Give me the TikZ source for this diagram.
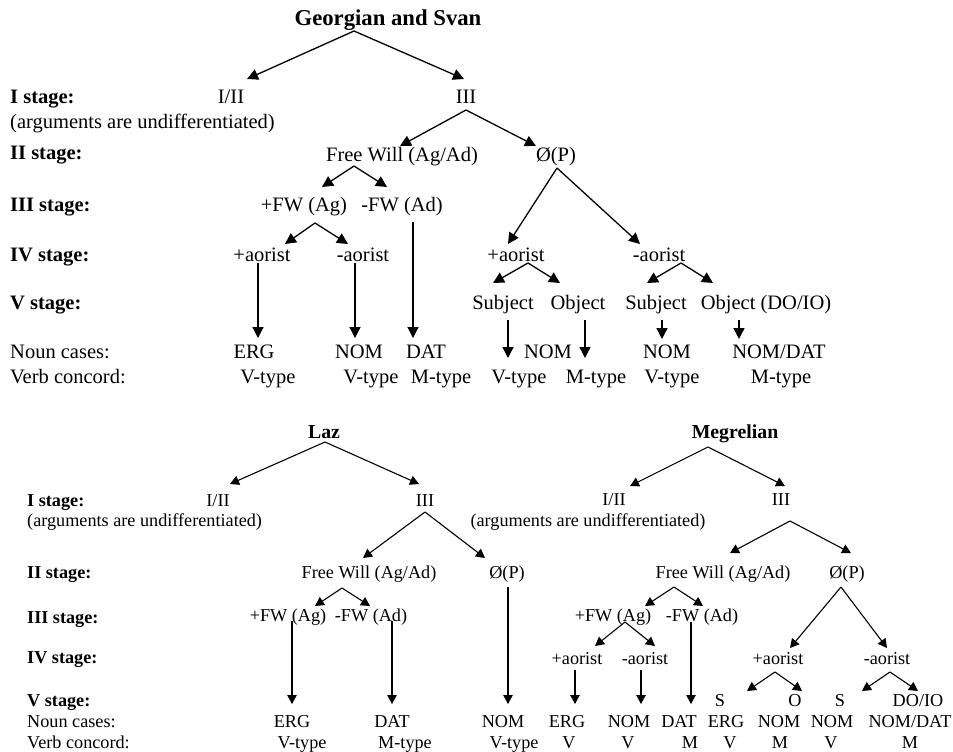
\documentclass[tikz,border=0pt]{standalone}
\usepackage{fontspec}
\setmainfont{Liberation Serif}
\usetikzlibrary{arrows.meta}
\tikzset{
 T/.style={inner sep=0pt, text height=13.5pt, text depth=0pt, font=\fontsize{20.5}{24}\selectfont},
 TS/.style={inner sep=0pt, text height=13.5pt, text depth=0pt, anchor=west, font=\fontsize{20.5}{24}\selectfont\bfseries},
 TL/.style={inner sep=0pt, text height=13.5pt, text depth=0pt, anchor=west, font=\fontsize{20.5}{24}\selectfont},
 TT/.style={inner sep=0pt, text height=15pt, text depth=0pt, font=\fontsize{22.7}{26}\selectfont\bfseries},
 B/.style={inner sep=0pt, text height=12pt, text depth=0pt, font=\fontsize{18.2}{22}\selectfont},
 BS/.style={inner sep=0pt, text height=12pt, text depth=0pt, anchor=west, font=\fontsize{18.2}{22}\selectfont\bfseries},
 BL/.style={inner sep=0pt, text height=12pt, text depth=0pt, anchor=west, font=\fontsize{18.2}{22}\selectfont},
 BT/.style={inner sep=0pt, text height=13pt, text depth=0pt, font=\fontsize{19.8}{24}\selectfont\bfseries},
 arrT/.style={line width=1.3pt, -{Triangle[length=11pt,width=11pt]}},
 arrB/.style={line width=1.1pt, -{Triangle[length=9pt,width=9.5pt]}},
}
\begin{document}
\begin{tikzpicture}[x=1pt,y=-1pt]
\useasboundingbox (0,0) rectangle (953,752);
% ---------------- Georgian and Svan ----------------
\node[TT] (title) at (388,18) {Georgian and Svan};
\node[TS] (s1) at (10,97) {I stage:};
\node[TL] (arg1) at (10,122) {(arguments are undifferentiated)};
\node[TS] (s2) at (10,153) {II stage:};
\node[TS] (s3) at (10,205) {III stage:};
\node[TS] (s4) at (10,255) {IV stage:};
\node[TS] (s5) at (10,303) {V stage:};
\node[TL] (nc1) at (10,352) {Noun cases:};
\node[TL] (vc1) at (10,377) {Verb concord:};

\node[T] (gi2) at (231,97) {I/II};
\node[T] (giii) at (466,97) {III};
\node[T] (gfw) at (402,155) {Free Will (Ag/Ad)};
\node[T] (gp) at (556,155) {Ø(P)};
\node[T] (gfwag) at (304,205) {+FW (Ag)};
\node[T] (gfwad) at (402,205) {-FW (Ad)};
\node[T] (gpa) at (262,255) {+aorist};
\node[T] (gma) at (363,255) {-aorist};
\node[T] (gpa2) at (516,255) {+aorist};
\node[T] (gma2) at (659,255) {-aorist};
\node[T] (gsub) at (503,303) {Subject};
\node[T] (gobj) at (578,303) {Object};
\node[T] (gsub2) at (656,303) {Subject};
\node[T] (gobj2) at (766,303) {Object (DO/IO)};
\node[T] (gn1) at (254,352) {ERG};
\node[T] (gn2) at (359,352) {NOM};
\node[T] (gn3) at (426,352) {DAT};
\node[T] (gn4) at (548,352) {NOM};
\node[T] (gn5) at (667,352) {NOM};
\node[T] (gn6) at (779,352) {NOM/DAT};
\node[T] (gv1) at (268,377) {V-type};
\node[T] (gv2) at (371,377) {V-type};
\node[T] (gv3) at (441,377) {M-type};
\node[T] (gv4) at (519,377) {V-type};
\node[T] (gv5) at (596,377) {M-type};
\node[T] (gv6) at (672,377) {V-type};
\node[T] (gv7) at (781,377) {M-type};

\draw[arrT] ([shift={(-34,13)}]title.center) -- ([shift={(16,-18)}]gi2.center);
\draw[arrT] ([shift={(-34,13)}]title.center) -- ([shift={(-2,-18)}]giii.center);
\draw[arrT] ([shift={(0,13)}]giii.center) -- ([shift={(-2,-9)}]gfw.center);
\draw[arrT] ([shift={(0,13)}]giii.center) -- ([shift={(-20,-9)}]gp.center);
\draw[arrT] ([shift={(-48,11)}]gfw.center) -- ([shift={(18,-18)}]gfwag.center);
\draw[arrT] ([shift={(-48,11)}]gfw.center) -- ([shift={(-15,-18)}]gfwad.center);
\draw[arrT] ([shift={(11,18)}]gfwag.center) -- ([shift={(23,-11)}]gpa.center);
\draw[arrT] ([shift={(11,18)}]gfwag.center) -- ([shift={(-15,-11)}]gma.center);
\draw[arrT] ([shift={(-4,8)}]gpa.center) -- ([shift={(4,-14)}]gn1.center);
\draw[arrT] ([shift={(-8,8)}]gma.center) -- ([shift={(-4,-14)}]gn2.center);
\draw[arrT] ([shift={(11,17)}]gfwad.center) -- ([shift={(-13,-14)}]gn3.center);
\draw[arrT] ([shift={(1,13)}]gp.center) -- ([shift={(-8,-11)}]gpa2.center);
\draw[arrT] ([shift={(1,13)}]gp.center) -- ([shift={(-19,-11)}]gma2.center);
\draw[arrT] ([shift={(12,8)}]gpa2.center) -- ([shift={(-10,-20)}]gsub.center);
\draw[arrT] ([shift={(12,8)}]gpa2.center) -- ([shift={(-18,-20)}]gobj.center);
\draw[arrT] ([shift={(22,8)}]gma2.center) -- ([shift={(-9,-20)}]gsub2.center);
\draw[arrT] ([shift={(22,8)}]gma2.center) -- ([shift={(-53,-20)}]gobj2.center);
\draw[arrT] ([shift={(5,17)}]gsub.center) -- ([shift={(-40,6)}]gn4.center);
\draw[arrT] ([shift={(7,17)}]gobj.center) -- ([shift={(37,6)}]gn4.center);
\draw[arrT] ([shift={(6,17)}]gsub2.center) -- ([shift={(-5,-13)}]gn5.center);
\draw[arrT] ([shift={(-27,17)}]gobj2.center) -- ([shift={(-40,-13)}]gn6.center);

% ---------------- Laz ----------------
\node[BT] (laz) at (324,432) {Laz};
\node[BS] (l1) at (27,500) {I stage:};
\node[BL] (larg) at (27,520) {(arguments are undifferentiated)};
\node[BS] (l2) at (27,572) {II stage:};
\node[BS] (l3) at (27,617) {III stage:};
\node[BS] (l4) at (27,657) {IV stage:};
\node[BS] (l5) at (27,700) {V stage:};
\node[BL] (lnc) at (27,721) {Noun cases:};
\node[BL] (lvc) at (27,742) {Verb concord:};

\node[B] (li2) at (218,500) {I/II};
\node[B] (liii) at (425,500) {III};
\node[B] (lfw) at (369,572) {Free Will (Ag/Ad)};
\node[B] (lp) at (507,572) {Ø(P)};
\node[B] (lfwag) at (288,615) {+FW (Ag)};
\node[B] (lfwad) at (371,615) {-FW (Ad)};
\node[B] (ln1) at (292,721) {ERG};
\node[B] (ln2) at (392,721) {DAT};
\node[B] (ln3) at (503,721) {NOM};
\node[B] (lv1) at (302,742) {V-type};
\node[B] (lv2) at (405,742) {M-type};
\node[B] (lv3) at (514,742) {V-type};

\draw[arrB] ([shift={(1,10)}]laz.center) -- ([shift={(12,-16)}]li2.center);
\draw[arrB] ([shift={(1,10)}]laz.center) -- ([shift={(-6,-16)}]liii.center);
\draw[arrB] ([shift={(0,12)}]liii.center) -- ([shift={(-6,-14)}]lfw.center);
\draw[arrB] ([shift={(0,12)}]liii.center) -- ([shift={(-22,-14)}]lp.center);
\draw[arrB] ([shift={(-27,16)}]lfw.center) -- ([shift={(27,-9)}]lfwag.center);
\draw[arrB] ([shift={(-27,16)}]lfw.center) -- ([shift={(-1,-9)}]lfwad.center);
\draw[arrB] ([shift={(4,6)}]lfwag.center) -- ([shift={(0,-17)}]ln1.center);
\draw[arrB] ([shift={(21,6)}]lfwad.center) -- ([shift={(0,-17)}]ln2.center);
\draw[arrB] ([shift={(1,15)}]lp.center) -- ([shift={(5,-17)}]ln3.center);

% ---------------- Megrelian ----------------
\node[BT] (meg) at (735,432) {Megrelian};
\node[B] (mi2) at (614,499) {I/II};
\node[B] (miii) at (781,499) {III};
\node[B] (marg) at (588,520) {(arguments are undifferentiated)};
\node[B] (mfw) at (723,572) {Free Will (Ag/Ad)};
\node[B] (mp) at (847,572) {Ø(P)};
\node[B] (mfwag) at (613,615) {+FW (Ag)};
\node[B] (mfwad) at (702,615) {-FW (Ad)};
\node[B] (mpa) at (577,658) {+aorist};
\node[B] (mma) at (645,658) {-aorist};
\node[B] (mpa2) at (778,658) {+aorist};
\node[B] (mma2) at (887,658) {-aorist};
\node[B] (ms1) at (720,700) {S};
\node[B] (mo1) at (795,700) {O};
\node[B] (ms2) at (840,700) {S};
\node[B] (mo2) at (918,700) {DO/IO};
\node[B] (mn1) at (567,721) {ERG};
\node[B] (mn2) at (629,721) {NOM};
\node[B] (mn3) at (679,721) {DAT};
\node[B] (mn4) at (726,721) {ERG};
\node[B] (mn5) at (779,721) {NOM};
\node[B] (mn6) at (832,721) {NOM};
\node[B] (mn7) at (910,721) {NOM/DAT};
\node[B] (mv1) at (569,742) {V};
\node[B] (mv2) at (628,742) {V};
\node[B] (mv3) at (690,742) {M};
\node[B] (mv4) at (730,742) {V};
\node[B] (mv5) at (780,742) {M};
\node[B] (mv6) at (831,742) {V};
\node[B] (mv7) at (910,742) {M};

\draw[arrB] ([shift={(-27,15)}]meg.center) -- ([shift={(16,-13)}]mi2.center);
\draw[arrB] ([shift={(-27,15)}]meg.center) -- ([shift={(4,-13)}]miii.center);
\draw[arrB] ([shift={(9,22)}]miii.center) -- ([shift={(7,-19)}]mfw.center);
\draw[arrB] ([shift={(9,22)}]miii.center) -- ([shift={(4,-19)}]mp.center);
\draw[arrB] ([shift={(-49,15)}]mfw.center) -- ([shift={(32,-9)}]mfwag.center);
\draw[arrB] ([shift={(-49,15)}]mfw.center) -- ([shift={(1,-9)}]mfwad.center);
\draw[arrB] ([shift={(12,7)}]mfwag.center) -- ([shift={(18,-12)}]mpa.center);
\draw[arrB] ([shift={(12,7)}]mfwag.center) -- ([shift={(10,-12)}]mma.center);
\draw[arrB] ([shift={(-11,7)}]mfwad.center) -- ([shift={(12,-17)}]mn3.center);
\draw[arrB] ([shift={(-2,12)}]mpa.center) -- ([shift={(8,-17)}]mn1.center);
\draw[arrB] ([shift={(-4,12)}]mma.center) -- ([shift={(12,-17)}]mn2.center);
\draw[arrB] ([shift={(-6,15)}]mp.center) -- ([shift={(12,-10)}]mpa2.center);
\draw[arrB] ([shift={(-6,15)}]mp.center) -- ([shift={(0,-10)}]mma2.center);
\draw[arrB] ([shift={(-3,14)}]mpa2.center) -- ([shift={(27,-9)}]ms1.center);
\draw[arrB] ([shift={(-3,14)}]mpa2.center) -- ([shift={(7,-9)}]mo1.center);
\draw[arrB] ([shift={(3,14)}]mma2.center) -- ([shift={(22,-9)}]ms2.center);
\draw[arrB] ([shift={(3,14)}]mma2.center) -- ([shift={(0,-9)}]mo2.center);
\end{tikzpicture}
\end{document}
